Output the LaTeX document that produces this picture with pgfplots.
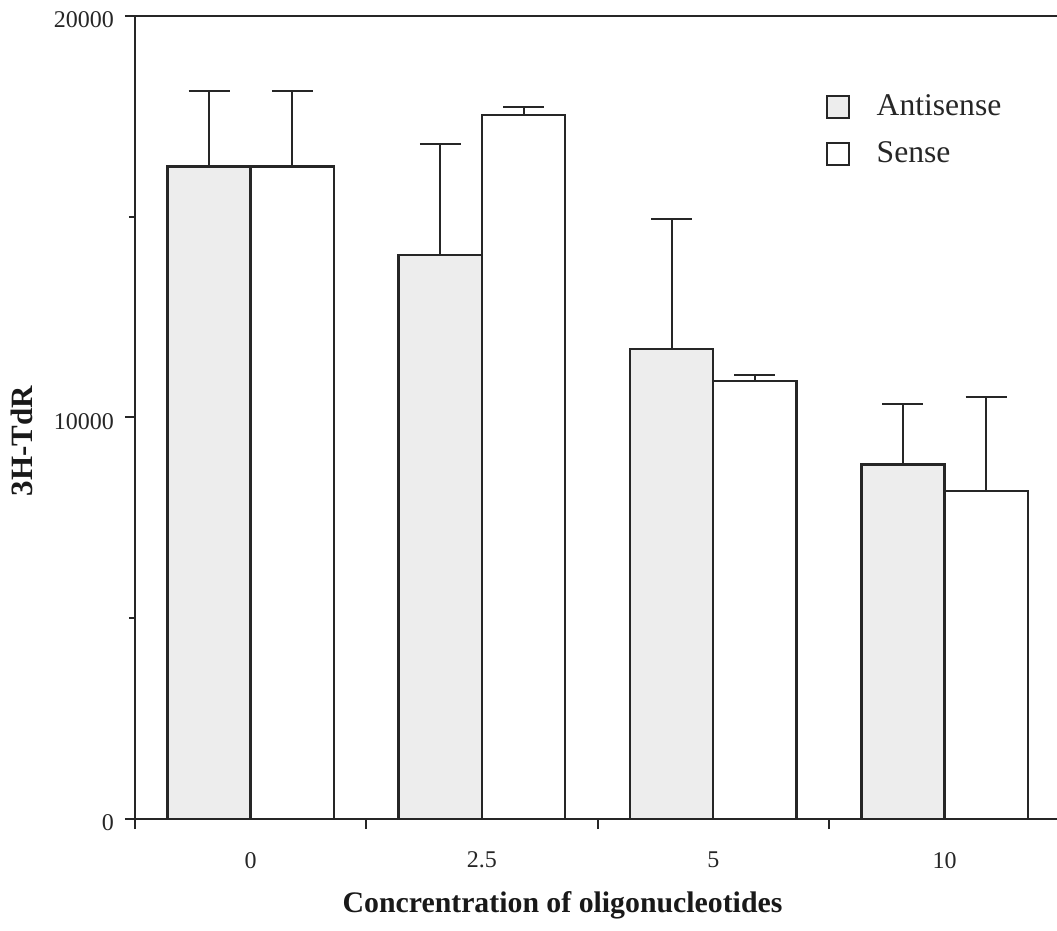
\documentclass[border=0pt]{standalone}
\usepackage{pgfplots}
\pgfplotsset{compat=1.18}
\usepackage{pgfplotstable}
\usepackage{fontspec}
\setmainfont{Liberation Serif}
\usetikzlibrary{calc}

% x = category index (0, 2.5, 5, 10), y = mean, e = upper error
\pgfplotstableread{
x y e
0 16250 1890
1 14050 2760
2 11700 3250
3 8830 1500
}\antisense
\pgfplotstableread{
x y e
0 16250 1890
1 17530 210
2 10910 150
3 8170 2340
}\sense

\begin{document}
\begin{tikzpicture}
\begin{axis}[
  name=ax,
  scale only axis, width=461pt, height=401.5pt,
  xmin=-0.5, xmax=3.486, ymin=0, ymax=20000,
  axis x line*=box, axis y line*=left,
  axis line style={-, line width=1pt, black!85},
  tick align=outside, xtick pos=bottom, ytick pos=left,
  major tick length=5pt, minor tick length=3pt,
  tick style={line width=1pt, black!85},
  xtick={-0.5,0.5,1.5,2.5}, xticklabels={},
  extra x ticks={0,1,2,3}, extra x tick labels={0,2.5,5,10},
  extra x tick style={major tick length=0pt},
  xticklabel style={yshift=-13pt},
  ytick={0,10000,20000}, yticklabels={0,10000,20000},
  yticklabel style={yshift=-2pt, xshift=-2pt, inner ysep=0pt},
  minor ytick={5000,15000},
  tick label style={font=\fontsize{12}{14}\selectfont, black!85},
  xlabel={Concrentration of oligonucleotides},
  ylabel={3H-TdR},
  label style={font=\fontsize{14.9}{17}\selectfont\bfseries, black!90},
  x label style={at={(axis description cs:0.4637,-0.107)}, anchor=center},
  y label style={at={(axis description cs:-0.1226,0.4707)}, anchor=center,
    font=\fontsize{15.5}{17}\selectfont\bfseries},
  ybar=0pt, bar width=0.36,
  every axis plot/.append style={draw=black!85, line width=1.2pt},
  error bars/y dir=plus, error bars/y explicit,
  error bars/error bar style={line width=1pt, black!85},
  error bars/error mark options={rotate=90, mark size=10.25pt, line width=1pt, black!85},
  legend style={at={(axis description cs:0.742,0.912)}, anchor=north west,
    draw=none, fill=none, font=\fontsize{15.8}{19}\selectfont,
    row sep=7.5pt, text=black!85},
  legend cell align=left,
  legend image code/.code={\draw[#1, line width=1pt] (0pt,-5.5pt) rectangle (11pt,5.5pt);
    \path (22.5pt,0pt);},
]
\addplot[fill=black!7] table[x=x, y=y, y error=e] {\antisense};
\addplot[fill=white] table[x=x, y=y, y error=e] {\sense};
\legend{Antisense, Sense}
\end{axis}
\pgfresetboundingbox
\path ($(ax.south west)+(-67.5pt,-55.5pt)$) rectangle ($(ax.north east)+(0pt,8pt)$);
\end{tikzpicture}
\end{document}
